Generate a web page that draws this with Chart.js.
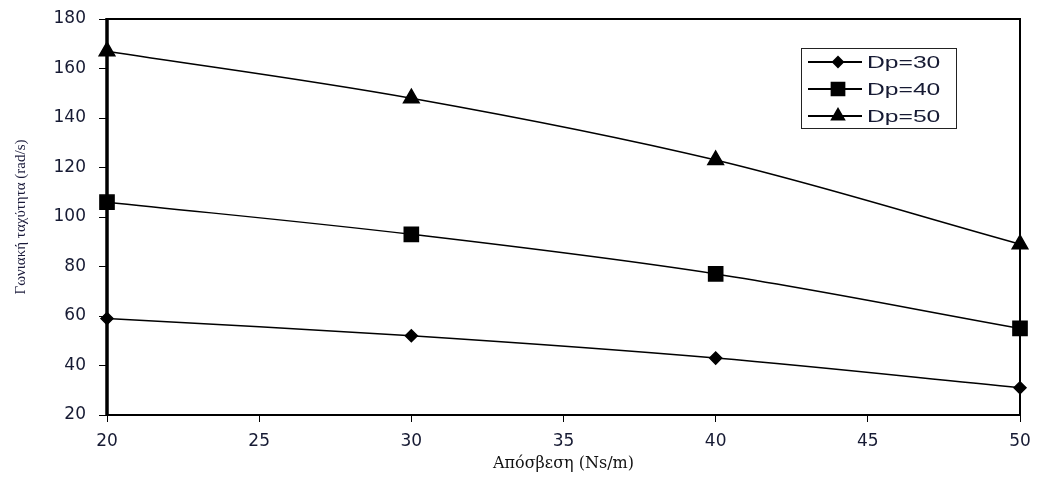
<!DOCTYPE html>
<html>
<head>
<meta charset="utf-8">
<script src="https://cdn.jsdelivr.net/npm/chart.js@4"></script>
<style>
  html, body { margin: 0; padding: 0; background: #fff; }
  #wrap { width: 1038px; height: 477px; }
</style>
</head>
<body>
<div id="wrap"><canvas id="chart"></canvas></div>
<script>
// damping values (x) and angular speed per Dp series
const damping = [20, 30, 40, 50];
const dp30 = [59, 52, 43, 31];
const dp40 = [106, 93, 77, 55];
const dp50 = [167, 148, 123, 89];
const seriesNames = ['Dp=30', 'Dp=40', 'Dp=50'];
const yTicks = [20, 40, 60, 80, 100, 120, 140, 160, 180];
const xTicks = [20, 25, 30, 35, 40, 45, 50];

function toPoints(vals) {
    return damping.map((x, i) => ({ x: x, y: vals[i] }));
}

// frame around plot area + legend box in the top right
const framePlugin = {
    id: 'frame',
    beforeDatasetsDraw(chart) {
        const a = chart.chartArea;
        const ctx = chart.ctx;
        ctx.save();
        ctx.strokeStyle = '#000';
        ctx.lineWidth = 2;
        ctx.strokeRect(a.left, a.top, a.right - a.left, a.bottom - a.top);
        // left side is drawn heavier in the original
        ctx.lineWidth = 3.5;
        ctx.beginPath();
        ctx.moveTo(a.left, a.top - 1);
        ctx.lineTo(a.left, a.bottom + 1);
        ctx.stroke();
        ctx.restore();
    },
    afterDraw(chart) {
        const ctx = chart.ctx;
        const bx = 801, by = 48, bw = 155, bh = 80;
        ctx.save();
        ctx.fillStyle = '#fff';
        ctx.fillRect(bx, by, bw, bh);
        ctx.strokeStyle = '#222';
        ctx.lineWidth = 1;
        ctx.strokeRect(bx + 0.5, by + 0.5, bw, bh);
        chart.data.datasets.forEach((ds, i) => {
            const cy = by + 14 + i * 27;
            ctx.strokeStyle = '#000';
            ctx.lineWidth = 2;
            ctx.beginPath();
            ctx.moveTo(bx + 7, cy);
            ctx.lineTo(bx + 61, cy);
            ctx.stroke();
            ctx.fillStyle = '#000';
            Chart.helpers.drawPoint(ctx, {
                pointStyle: ds.pointStyle,
                radius: ds.legendRadius,
                borderWidth: 1
            }, bx + 37, cy);
            // text is stretched sideways like the source image
            ctx.save();
            ctx.translate(bx + 66, cy + 1);
            ctx.scale(1.45, 1);
            ctx.fillStyle = '#161a33';
            ctx.font = '17px "Liberation Sans", Arial, sans-serif';
            ctx.textBaseline = 'middle';
            ctx.fillText(ds.label, 0, 0);
            ctx.restore();
        });
        ctx.restore();
    }
};

const common = {
    borderColor: '#000',
    backgroundColor: '#000',
    pointBorderColor: '#000',
    pointBackgroundColor: '#000',
    borderWidth: 1.5,
    tension: 0.35,
    clip: false
};

const tickFont = { family: '"DejaVu Sans", Verdana, sans-serif', size: 17 };

new Chart(document.getElementById('chart'), {
    type: 'line',
    data: {
        datasets: [
            Object.assign({ label: seriesNames[0], data: toPoints(dp30), pointStyle: 'rectRot', pointRadius: 6, legendRadius: 5 }, common),
            Object.assign({ label: seriesNames[1], data: toPoints(dp40), pointStyle: 'rect', pointRadius: 10, legendRadius: 9 }, common),
            Object.assign({ label: seriesNames[2], data: toPoints(dp50), pointStyle: 'triangle', pointRadius: 9, legendRadius: 7 }, common)
        ]
    },
    options: {
        responsive: true,
        maintainAspectRatio: false,
        animation: false,
        layout: { padding: { top: 19, right: 18, left: 8, bottom: 0 } },
        plugins: {
            legend: { display: false },
            tooltip: { enabled: false }
        },
        scales: {
            x: {
                type: 'linear',
                min: 20,
                max: 50,
                afterBuildTicks: s => { s.ticks = xTicks.map(v => ({ value: v })); },
                afterFit: s => { s.height = 62; s.paddingLeft = 0; s.paddingRight = 0; },
                grid: { drawOnChartArea: false, color: '#000', tickLength: 7, tickWidth: 1 },
                border: { display: false },
                ticks: {
                    color: '#161a33',
                    font: tickFont,
                    padding: 9
                },
                title: {
                    display: true,
                    text: 'Απόσβεση (Ns/m)',
                    color: '#111',
                    font: { family: '"DejaVu Serif", "Liberation Serif", serif', size: 16 },
                    padding: { top: 2 }
                }
            },
            y: {
                min: 20,
                max: 180,
                afterBuildTicks: s => { s.ticks = yTicks.map(v => ({ value: v })); },
                afterFit: s => { s.width = 99; s.paddingTop = 0; s.paddingBottom = 0; },
                grid: { drawOnChartArea: false, color: '#000', tickLength: 8, tickWidth: 1 },
                border: { display: false },
                ticks: {
                    color: '#161a33',
                    font: tickFont,
                    padding: 13
                },
                title: {
                    display: true,
                    text: 'Γωνιακή ταχύτητα (rad/s)',
                    color: '#1a1a3a',
                    font: { family: '"Liberation Serif", "Times New Roman", serif', size: 15 },
                    padding: { bottom: 6 }
                }
            }
        }
    },
    plugins: [framePlugin]
});
</script>
</body>
</html>
